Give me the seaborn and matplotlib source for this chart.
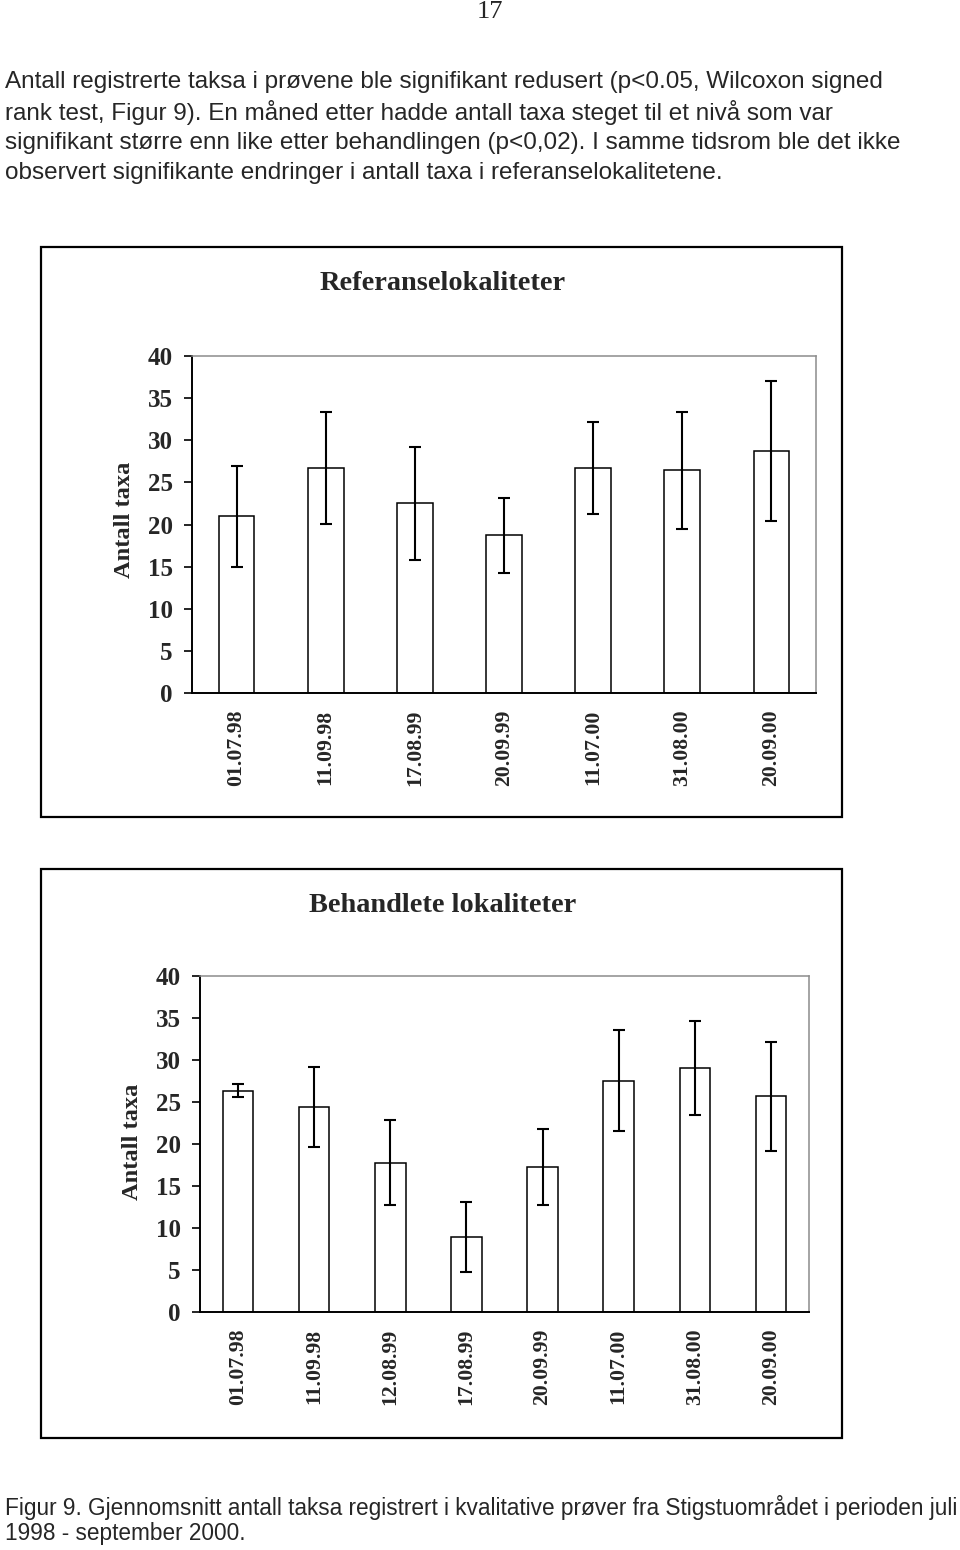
import matplotlib
matplotlib.use("Agg")
import matplotlib.pyplot as plt
import seaborn as sns
import pandas as pd
from matplotlib.patches import Rectangle

# ---- data ----
ref_dates = ["01.07.98", "11.09.98", "17.08.99", "20.09.99", "11.07.00", "31.08.00", "20.09.00"]
ref_mean = [21.0, 26.7, 22.5, 18.75, 26.75, 26.45, 28.7]
ref_err = [6.0, 6.6, 6.7, 4.45, 5.45, 6.95, 8.3]

beh_dates = ["01.07.98", "11.09.98", "12.08.99", "17.08.99", "20.09.99", "11.07.00", "31.08.00", "20.09.00"]
beh_mean = [26.35, 24.4, 17.75, 8.95, 17.25, 27.55, 29.0, 25.7]
beh_err = [0.75, 4.8, 5.05, 4.15, 4.55, 6.05, 5.6, 6.5]

y_ticks = [0, 5, 10, 15, 20, 25, 30, 35, 40]

body_lines = [
    "Antall registrerte taksa i prøvene ble signifikant redusert (p<0.05, Wilcoxon signed",
    "rank test, Figur 9). En måned etter hadde antall taxa steget til et nivå som var",
    "signifikant større enn like etter behandlingen (p<0,02). I samme tidsrom ble det ikke",
    "observert signifikante endringer i antall taxa i referanselokalitetene.",
]
caption_lines = [
    "Figur 9. Gjennomsnitt antall taksa registrert i kvalitative prøver fra Stigstuområdet i perioden juli",
    "1998 - september 2000.",
]

sns.set_style("white")
plt.rcParams["font.family"] = ["Liberation Serif", "DejaVu Serif"]

W, H = 960, 1550
fig = plt.figure(figsize=(W / 100, H / 100), dpi=100)


def fx(x):
    return x / W


def fy(y):
    return 1 - y / H


# page number
fig.text(fx(490), fy(12), "17", ha="center", va="center", fontsize=19,
         family=["Liberation Serif"])

# body text
for i, line in enumerate(body_lines):
    fig.text(fx(5), fy(82 + 30.3 * i), line, ha="left", va="center", fontsize=17.5,
             family=["Liberation Sans", "DejaVu Sans"])
for i, line in enumerate(caption_lines):
    fig.text(fx(5), fy(1508 + 25.5 * i), line, ha="left", va="center", fontsize=16.3,
             family=["Liberation Sans", "DejaVu Sans"])

# chart frames
for (x0, y0, x1, y1) in [(41, 247, 842, 817), (41, 869, 842, 1438)]:
    fig.patches.append(Rectangle((fx(x0), fy(y1)), fx(x1) - fx(x0), fy(y0) - fy(y1),
                                 transform=fig.transFigure, fill=False,
                                 edgecolor="black", linewidth=1.6, zorder=0))


def panel(rect, dates, means, errs, title, title_xy, ylab_xy):
    ax = fig.add_axes(rect)
    df = pd.DataFrame({"dato": dates, "taxa": means})
    sns.barplot(data=df, x="dato", y="taxa", ax=ax, color="white", edgecolor="black",
                linewidth=1.1, width=0.4, errorbar=None, saturation=1)
    ax.errorbar(range(len(dates)), means, yerr=errs, fmt="none", ecolor="black",
                elinewidth=1.5, capsize=4.5, capthick=1.5, zorder=5)
    ax.set_xlim(-0.5, len(dates) - 0.5)
    ax.set_ylim(0, 40)
    ax.set_yticks(y_ticks)
    ax.set_xlabel("")
    ax.set_ylabel("")
    ax.set_xticks(range(len(dates)))
    ax.set_xticklabels(dates, rotation=90, fontsize=15.7, fontweight="bold")
    ax.set_xticks([i - 0.5 for i in range(len(dates) + 1)], minor=True)
    ax.tick_params(axis="x", which="major", length=0, pad=12)
    ax.tick_params(axis="x", which="minor", length=5.8, width=1.2, direction="out", color="black")
    ax.tick_params(axis="y", which="major", length=5.8, width=1.2, direction="out", left=True,
                   labelsize=18, pad=8, color="black")
    for lab in ax.get_yticklabels():
        lab.set_fontweight("bold")
    for s in ["left", "bottom"]:
        ax.spines[s].set_color("black")
        ax.spines[s].set_linewidth(1.4)
    for s in ["top", "right"]:
        ax.spines[s].set_visible(True)
        ax.spines[s].set_color("#8c8c8c")
        ax.spines[s].set_linewidth(1.1)
    fig.text(fx(title_xy[0]), fy(title_xy[1]), title, ha="center", va="center",
             fontsize=20.4, fontweight="bold")
    fig.text(fx(ylab_xy[0]), fy(ylab_xy[1]), "Antall taxa", ha="center", va="center",
             rotation=90, fontsize=17.6, fontweight="bold")
    return ax


panel([fx(192), fy(693), fx(816) - fx(192), fy(356) - fy(693)],
      ref_dates, ref_mean, ref_err, "Referanselokaliteter", (443, 283), (125, 520))
panel([fx(200), fy(1312), fx(809) - fx(200), fy(976) - fy(1312)],
      beh_dates, beh_mean, beh_err, "Behandlete lokaliteter", (443, 906), (133, 1142))

fig.savefig("out.png", dpi=100)
